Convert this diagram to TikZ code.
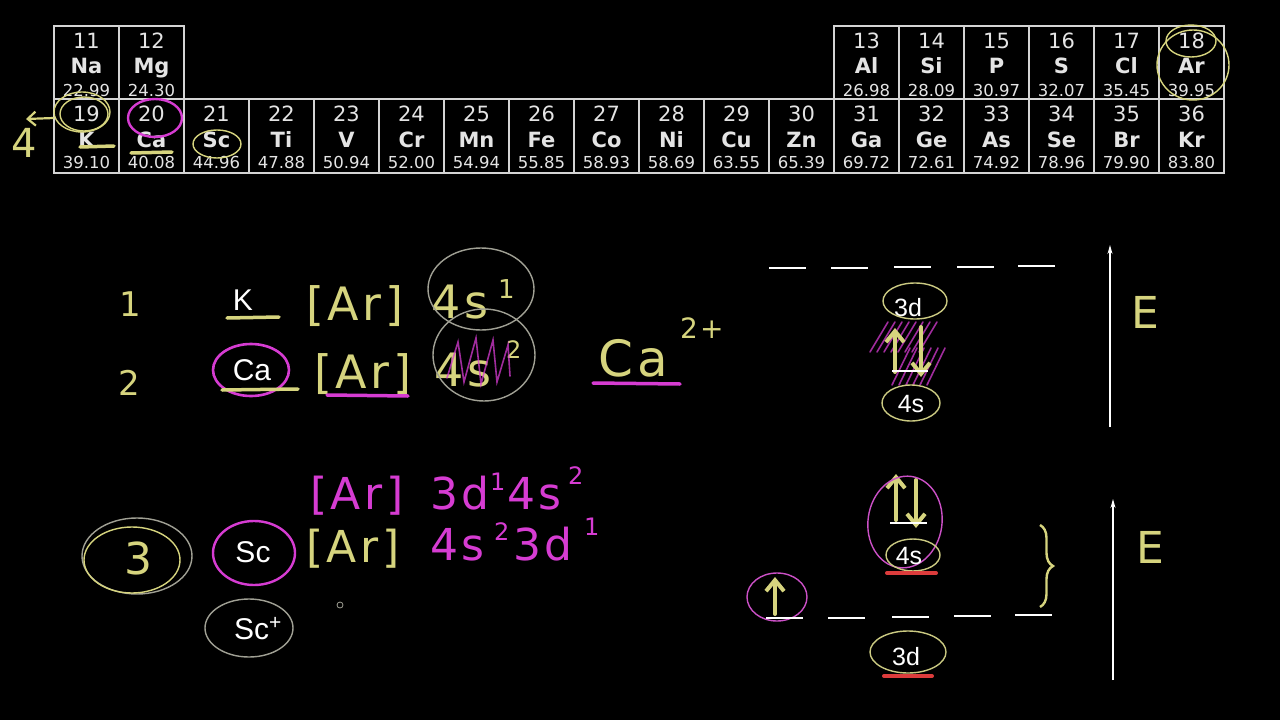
\documentclass[tikz,border=0pt]{standalone}
\usepackage{fontspec}
\setmainfont{DejaVu Sans}
\newfontfamily\handfont[LetterSpace=8]{DejaVu Sans}
\newfontfamily\labelfont{Liberation Sans}
\usetikzlibrary{arrows.meta,positioning,decorations.pathreplacing}
\definecolor{BoardBG}   {HTML}{000000}
\definecolor{CellLine}  {HTML}{D4D4D4}
\definecolor{CellText}  {HTML}{E4E4E4}
\definecolor{ChalkYel}  {HTML}{D6D47E}
\definecolor{ChalkMag}  {HTML}{D63CD2}
\definecolor{ChalkGrey} {HTML}{A0A094}
\definecolor{ChalkRed}  {HTML}{DC3C3C}
\newcommand\handsize[1]{\handfont\fontsize{#1}{#1}\selectfont}
\newcommand\lblsize[1]{\labelfont\fontsize{#1}{#1}\selectfont}
\tikzset{
  cellbox/.style={draw=CellLine,line width=2pt},
  cellnum/.style={text=CellText,anchor=base,inner sep=0pt,font=\fontsize{21}{21}\selectfont},
  cellsym/.style={text=CellText,anchor=base,inner sep=0pt,font=\bfseries\fontsize{21}{21}\selectfont},
  cellmass/.style={text=CellText,anchor=base,inner sep=0pt,font=\fontsize{16.5}{16.5}\selectfont},
  chalk/.style={text=ChalkYel,anchor=base west,inner sep=0pt},
  chalkmag/.style={text=ChalkMag,anchor=base west,inner sep=0pt},
  whitetag/.style={text=white,anchor=base,inner sep=0pt},
  ring/.style={draw=#1,line width=1.4pt},
  ring/.default=ChalkGrey,
  stroke/.style={draw=#1,line width=3.5pt,line cap=round},
  stroke/.default=ChalkYel,
  hatch/.style={draw=ChalkMag,line width=1.6pt,opacity=.75,line cap=round},
  orbital/.style={draw=white,line width=1.2pt},
  spin/.style={draw=ChalkYel,line width=4pt,line cap=round,-{Straight Barb[length=11pt,width=18pt]}},
  energyaxis/.style={draw=white,line width=1.2pt,-{Stealth[length=9pt,width=5pt]}},
}
\begin{document}
\begin{tikzpicture}[x=1pt,y=-1pt]
  \fill[BoardBG] (0,0) rectangle (1280,720);
  \useasboundingbox (0,0) rectangle (1280,720);

  % periodic table, rows 3 and 4
  \foreach \col/\num/\sym/\mass in {0/11/Na/22.99, 1/12/Mg/24.30, 12/13/Al/26.98,
      13/14/Si/28.09, 14/15/P/30.97, 15/16/S/32.07, 16/17/Cl/35.45, 17/18/Ar/39.95}{
    \draw[cellbox] (54+65*\col,26) rectangle ++(65,73);
    \node[cellnum]  (num-\num)  at (86.5+65*\col,48) {\num};
    \node[cellsym]  (sym-\num)  at (86.5+65*\col,73) {\sym};
    \node[cellmass] (mass-\num) at (86.5+65*\col,96) {\mass};
  }
  \foreach \col/\num/\sym/\mass in {0/19/K/39.10, 1/20/Ca/40.08, 2/21/Sc/44.96,
      3/22/Ti/47.88, 4/23/V/50.94, 5/24/Cr/52.00, 6/25/Mn/54.94, 7/26/Fe/55.85,
      8/27/Co/58.93, 9/28/Ni/58.69, 10/29/Cu/63.55, 11/30/Zn/65.39, 12/31/Ga/69.72,
      13/32/Ge/72.61, 14/33/As/74.92, 15/34/Se/78.96, 16/35/Br/79.90, 17/36/Kr/83.80}{
    \draw[cellbox] (54+65*\col,99) rectangle ++(65,74);
    \node[cellnum]  (num-\num)  at (86.5+65*\col,121) {\num};
    \node[cellsym]  (sym-\num)  at (86.5+65*\col,147) {\sym};
    \node[cellmass] (mass-\num) at (86.5+65*\col,168) {\mass};
  }

  % marks on the table
  \draw[ring=ChalkYel] (82,112) ellipse [x radius=28,y radius=20];
  \draw[ring=ChalkYel] (84,114) ellipse [x radius=24,y radius=17];
  \coordinate (period-from) at (54,118);
  \coordinate (period-to)   at (26,119);
  \draw[draw=ChalkYel,line width=2.2pt,-{Straight Barb[length=8pt,width=14pt]}] (period-from) -- (period-to);
  \node[chalk,font=\handsize{40}] (period-four) at (11,157) {4};
  \draw[stroke] (80,147) -- (114,146);
  \draw[ring=ChalkMag,line width=2.4pt] (155,118) ellipse [x radius=27,y radius=19];
  \draw[stroke] (131,153) -- (172,152);
  \draw[ring=ChalkYel] (217,144) ellipse [x radius=24,y radius=14];
  \draw[ring=ChalkYel] (1191,41) ellipse [x radius=25,y radius=16];
  \draw[ring=ChalkYel] (1193,65) ellipse [x radius=36,y radius=35];

  % potassium and calcium
  \node[chalk,font=\handsize{34}] (row-one) at (119,316) {1};
  \node[whitetag,font=\lblsize{30}] (k-tag) at (243,310) {K};
  \draw[stroke] (227,318) -- (279,317);
  \node[chalk,font=\handsize{46}] (k-core) at (306,320) {[Ar]};
  \node[chalk,font=\handsize{46}] (k-shell) at (431,318) {4s};
  \node[chalk,font=\handsize{26}] (k-sup) at (498,298) {1};
  \draw[ring] (481,289) ellipse [x radius=53,y radius=41];

  \node[chalk,font=\handsize{34}] (row-two) at (118,395) {2};
  \node[whitetag,font=\lblsize{30}] (ca-tag) at (252,380) {Ca};
  \draw[ring=ChalkMag,line width=2.6pt] (251,370) ellipse [x radius=38,y radius=26];
  \draw[stroke] (222,390) -- (298,389);
  \node[chalk,font=\handsize{46}] (ca-core) at (314,388) {[Ar]};
  \draw[stroke=ChalkMag] (327,395) -- (408,396);
  \node[chalk,font=\handsize{46}] (ca-shell) at (434,386) {4s};
  \node[chalk,font=\handsize{24}] (ca-sup) at (506,358) {2};
  \draw[ring] (484,355) ellipse [x radius=51,y radius=46];
  \draw[hatch] (447,378) -- (458,342) -- (464,382) -- (476,338) -- (481,384)
    -- (493,340) -- (497,382) -- (508,345) -- (510,376);

  \node[chalk,font=\handsize{50}] (ion-ca) at (598,376) {Ca};
  \node[chalk,font=\handsize{28}] (ion-charge) at (680,338) {2+};
  \draw[stroke=ChalkMag] (593,383) -- (680,384);

  % scandium
  \draw[ring] (137,556) ellipse [x radius=55,y radius=38];
  \draw[ring=ChalkYel] (132,560) ellipse [x radius=48,y radius=33];
  \node[chalk,font=\handsize{44}] (row-three) at (124,574) {3};
  \node[whitetag,font=\lblsize{30}] (sc-tag) at (253,562) {Sc};
  \draw[ring=ChalkMag,line width=2.4pt] (254,553) ellipse [x radius=41,y radius=32];
  \node[chalkmag,font=\handsize{44}] (sc-core-a) at (310,509) {[Ar]};
  \node[chalkmag,font=\handsize{44}] (sc-d-a) at (430,509) {3d};
  \node[chalkmag,font=\handsize{24}] (sc-d-sup) at (490,490) {1};
  \node[chalkmag,font=\handsize{44}] (sc-s-a) at (507,509) {4s};
  \node[chalkmag,font=\handsize{24}] (sc-s-sup) at (568,484) {2};
  \node[chalk,font=\handsize{44}] (sc-core-b) at (306,562) {[Ar]};
  \node[chalkmag,font=\handsize{44}] (sc-s-b) at (430,560) {4s};
  \node[chalkmag,font=\handsize{24}] (sc-s-bsup) at (494,540) {2};
  \node[chalkmag,font=\handsize{44}] (sc-d-b) at (513,560) {3d};
  \node[chalkmag,font=\handsize{24}] (sc-d-bsup) at (584,535) {1};
  \node[whitetag,font=\lblsize{30}] (scion-tag) at (258,639) {Sc\textsuperscript{+}};
  \draw[ring] (249,628) ellipse [x radius=44,y radius=29];
  \draw[ChalkGrey,line width=.8pt] (340,605) circle [radius=3];

  % upper energy levels
  \foreach \xa/\ya in {769/268, 831/268, 894/267, 957/267, 1018/266}
    \draw[orbital] (\xa,\ya) -- ++(37,0);
  \node[whitetag,font=\lblsize{25}] (upper-3d) at (908,316) {3d};
  \draw[ring=ChalkYel!80!ChalkGrey] (915,301) ellipse [x radius=32,y radius=18];
  \foreach \k in {0,...,7}
    \draw[hatch] (870+7*\k,352) -- (888+7*\k,322);
  \foreach \k in {0,...,5}
    \draw[hatch] (892+7*\k,385) -- (910+7*\k,348);
  \draw[spin] (895,372) -- (895,328);
  \draw[spin] (921,327) -- (921,377);
  \draw[orbital] (892,371) -- (928,371);
  \node[whitetag,font=\lblsize{25}] (upper-4s) at (911,412) {4s};
  \draw[ring=ChalkYel!80!ChalkGrey] (911,403) ellipse [x radius=29,y radius=18];
  \coordinate (upper-low) at (1110,427);
  \coordinate (upper-high) at (1110,245);
  \draw[energyaxis] (upper-low) -- (upper-high);
  \node[chalk,font=\handsize{44}] (upper-e) at (1131,328) {E};

  % lower energy levels
  \draw[spin] (896,520) -- (896,474);
  \draw[spin] (916,480) -- (916,528);
  \draw[orbital] (890,523) -- (927,523);
  \draw[ring=ChalkMag!80!ChalkGrey,rotate around={-8:(905,522)}] (905,522) ellipse [x radius=37,y radius=46];
  \node[whitetag,font=\lblsize{25}] (lower-4s) at (909,564) {4s};
  \draw[ring=ChalkYel!80!ChalkGrey] (913,555) ellipse [x radius=27,y radius=16];
  \draw[stroke=ChalkRed,line width=4pt] (887,573) -- (936,573);
  \draw[ring=ChalkMag!80!ChalkGrey] (777,597) ellipse [x radius=30,y radius=24];
  \draw[spin] (775,614) -- (775,577);
  \foreach \xa/\ya in {766/618, 828/618, 892/617, 954/616, 1015/615}
    \draw[orbital] (\xa,\ya) -- ++(37,0);
  \node[whitetag,font=\lblsize{25}] (lower-3d) at (906,665) {3d};
  \draw[ring=ChalkYel!80!ChalkGrey] (908,652) ellipse [x radius=38,y radius=21];
  \draw[stroke=ChalkRed,line width=4pt] (884,676) -- (932,676);
  \coordinate (gap-top) at (1040,525);
  \coordinate (gap-bottom) at (1040,607);
  \draw[draw=ChalkYel,line width=2.4pt,decorate,decoration={brace,amplitude=13pt}] (gap-top) -- (gap-bottom);
  \coordinate (lower-low) at (1113,680);
  \coordinate (lower-high) at (1113,499);
  \draw[energyaxis] (lower-low) -- (lower-high);
  \node[chalk,font=\handsize{44}] (lower-e) at (1136,563) {E};
\end{tikzpicture}
\end{document}
